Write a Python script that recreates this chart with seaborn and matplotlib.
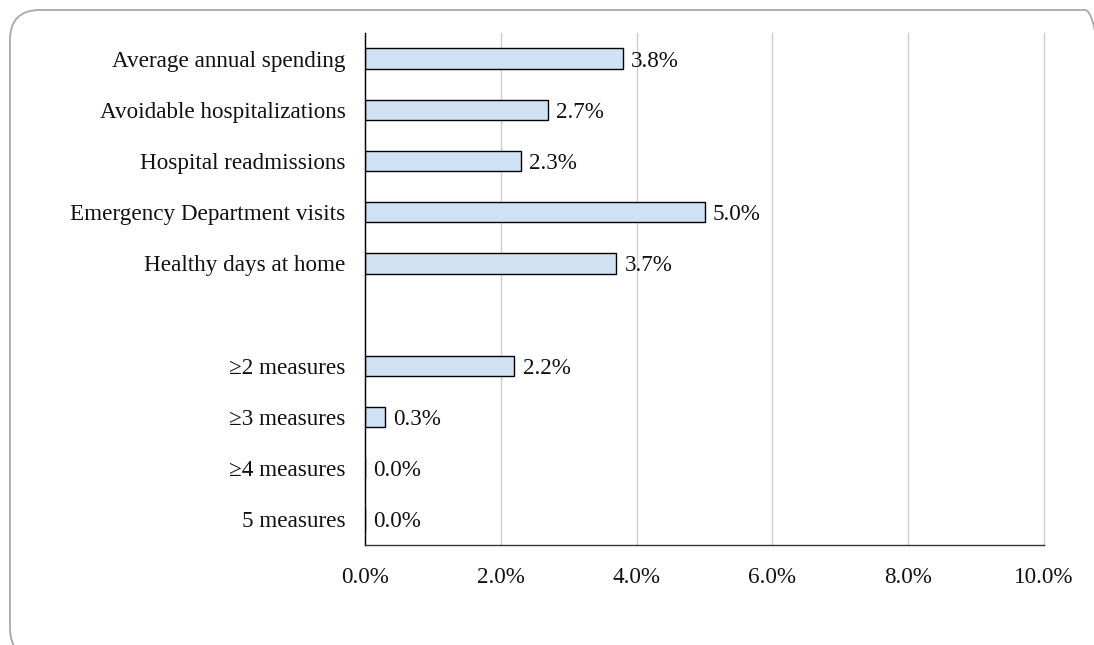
import matplotlib
matplotlib.use("Agg")
import matplotlib.pyplot as plt
import seaborn as sns
import pandas as pd
import numpy as np
from matplotlib.patches import FancyBboxPatch

categories = ["Average annual spending", "Avoidable hospitalizations", "Hospital readmissions",
              "Emergency Department visits", "Healthy days at home", " ",
              "\u22652 measures", "\u22653 measures", "\u22654 measures", "5 measures"]
values = [3.8, 2.7, 2.3, 5.0, 3.7, np.nan, 2.2, 0.3, 0.0, 0.0]
xticks = [0, 2, 4, 6, 8, 10]

sns.set_theme(style="white")
plt.rcParams['font.family'] = ['Liberation Serif', 'DejaVu Serif']

df = pd.DataFrame({"cat": categories, "val": values})

fig = plt.figure(figsize=(10.94, 6.45), dpi=100)
ax = fig.add_axes([365/1094, 1-545/645, (1044-365)/1094, (545-33)/645])

# rounded frame (in inches)
border = FancyBboxPatch((0.10, -0.13), 11.05, 6.45 - 0.10 + 0.13,
                        boxstyle="round,pad=0,rounding_size=0.30",
                        transform=fig.dpi_scale_trans, facecolor="none",
                        edgecolor="#a8a8a8", linewidth=1.3)
fig.patches.append(border)

FS = 16.7
sns.barplot(data=df, x="val", y="cat", order=categories, ax=ax, color="#d0e1f3",
            edgecolor="black", linewidth=1.0, width=0.4, saturation=1)

for i, v in enumerate(values):
    if not np.isnan(v):
        ax.text(v + 0.12, i + 0.05, f"{v:.1f}%", va="center", ha="left", fontsize=FS, color="#111111")

ax.set_xlim(0, 10)
ax.set_xticks(xticks)
ax.set_xticklabels([f"{t:.1f}%" for t in xticks], fontsize=FS, color="#111111")
ax.tick_params(axis="y", labelsize=FS, labelcolor="#111111", length=0, pad=14)
ax.tick_params(axis="x", length=0, pad=16)
ax.set_xlabel("")
ax.set_ylabel("")
ax.xaxis.grid(True, color="#cccccc", linewidth=1)
for gl in ax.get_xgridlines():
    gl.set_clip_on(False)
ax.set_axisbelow(True)
for s in ["top", "right"]:
    ax.spines[s].set_visible(False)
ax.spines["left"].set_color("black")
ax.spines["left"].set_linewidth(1.0)
ax.spines["bottom"].set_color("#333333")
ax.spines["bottom"].set_linewidth(1.0)

fig.savefig("out.png", dpi=100)
